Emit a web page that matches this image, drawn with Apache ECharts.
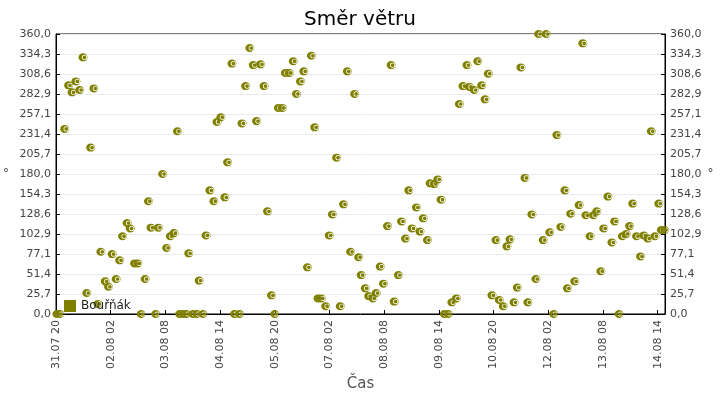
<!DOCTYPE html>
<html>
<head>
<meta charset="utf-8">
<script src="https://cdn.jsdelivr.net/npm/echarts@6/dist/echarts.min.js"></script>
<style>
  html, body { margin: 0; padding: 0; background: #fff; }
  #chart { width: 720px; height: 400px; }
</style>
</head>
<body>
<div id="chart"></div>
<script>
// hodiny od 31.07 20:00
var hours = [0.5, 2.2, 4.8, 6.9, 8.8, 10.9, 13.0, 14.8, 16.9, 19.0, 20.8, 23.0, 24.6, 27.0, 28.8, 30.8,
    33.0, 34.9, 36.5, 39.0, 40.7, 43.1, 44.9, 46.7, 48.9, 50.7, 52.1, 54.7, 56.2, 58.5, 60.7, 62.7,
    64.7, 66.6, 67.8, 69.8, 71.6, 72.8, 75.2, 77.3, 78.5, 80.6, 82.3, 84.4, 86.6, 88.3, 90.4, 92.6,
    94.1, 96.5, 97.9, 100.7, 102.0, 104.0, 106.3, 108.2, 110.0, 112.2, 114.1, 116.0, 118.2, 120.0,
    122.0, 124.2, 125.8, 128.0, 130.1, 131.9, 134.1, 135.9, 137.9, 140.1, 141.9, 143.7, 145.5, 147.9,
    149.9, 151.6, 153.9, 155.9, 157.7, 159.8, 161.6, 163.8, 166.0, 167.4, 169.6, 171.5, 173.8, 175.6,
    177.8, 179.6, 181.8, 183.8, 185.5, 187.8, 189.5, 191.7, 193.5, 195.3, 197.7, 199.6, 201.4, 203.7,
    205.2, 207.5, 209.4, 211.2, 213.0, 215.2, 217.1, 219.6, 221.2, 223.2, 225.4, 226.8, 229.4, 231.3,
    233.5, 235.3, 237.1, 239.1, 241.3, 243.1, 245.3, 247.3, 249.0, 251.2, 253.0, 255.0, 257.2, 258.8,
    261.0, 263.2, 264.7, 267.2, 268.8, 270.8, 273.0, 274.7, 276.9, 279.1, 280.5, 282.3, 284.5, 286.9,
    288.9, 290.6, 292.9, 294.8, 296.6, 298.8, 300.4, 302.7, 304.9, 306.4, 308.8, 310.6, 312.8, 314.6,
    316.3, 318.4, 320.6, 322.4, 324.6, 326.5, 328.5, 330.6, 332.0, 333.8];

// smer vetru ve stupnich
var dirs = [0, 0, 238, 294, 285, 299, 288, 330, 27, 214, 290, 13, 80, 42, 35, 77,
    45, 69, 100, 117, 110, 65, 65, 0, 45, 145, 111, 0, 111, 180, 85, 100,
    104, 235, 0, 0, 0, 78, 0, 0, 43, 0, 101, 159, 145, 247, 253, 150,
    195, 322, 0, 0, 245, 293, 342, 320, 248, 321, 293, 132, 24, 0,
    265, 265, 310, 310, 325, 283, 299, 312, 60, 332, 240, 20, 20, 10,
    101, 128, 201, 10, 141, 312, 80, 283, 73, 50, 33, 23, 20, 27,
    61, 39, 113, 320, 16, 50, 119, 97, 159, 110, 137, 106, 123, 95,
    168, 167, 173, 147, 0, 0, 15, 20, 270, 293, 320, 292, 288, 325,
    294, 276, 309, 24, 95, 18, 10, 87, 96, 15, 34, 317, 175, 15,
    128, 45, 360, 95, 360, 105, 0, 230, 112, 159, 33, 129, 42, 140,
    348, 127, 100, 127, 132, 55, 110, 151, 92, 119, 0, 100, 103, 113,
    142, 100, 74, 101, 97, 235, 100, 142, 108, 108];

var seriesName = 'Bouřňák';
var start = Date.UTC(2023, 6, 31, 20, 0);
var xMax = 334;
var yStep = 360 / 14;

function pad(n) { return (n < 10 ? '0' : '') + n; }

function timeLabel(h) {
    if (Math.abs(h % 30) > 0.001) return '';
    var d = new Date(start + h * 3600 * 1000);
    return pad(d.getUTCDate()) + '.' + pad(d.getUTCMonth() + 1) + ' ' + pad(d.getUTCHours());
}

function degLabel(v) {
    return v.toFixed(1).replace('.', ',');
}

// kolecko s bilym prouzkem vpravo
var marker = 'path://M0,9A10,9 0 1,1 20,9A10,9 0 1,1 0,9Z' +
    'M19,9A5.8,5.8 0 1,0 7.4,9A5.8,5.8 0 1,0 19,9Z' +
    'M17.4,9A4.2,4.2 0 1,1 9,9A4.2,4.2 0 1,1 17.4,9Z';

var points = [];
for (var i = 0; i < hours.length; i++) {
    points.push([hours[i], dirs[i]]);
}

var font = 'DejaVu Sans';

function yAxisOpt(pos, gap) {
    return {
        type: 'value',
        position: pos,
        min: 0,
        max: 360,
        interval: yStep,
        name: '°',
        nameLocation: 'middle',
        nameGap: gap,
        nameRotate: 0,
        nameTextStyle: { color: '#444', fontFamily: font, fontSize: 12 },
        axisLine: { show: true, lineStyle: { color: '#000', width: 1 } },
        axisTick: { show: true, inside: true, length: 4, lineStyle: { color: '#000' } },
        axisLabel: { color: '#444', fontFamily: font, fontSize: 11, margin: 5, formatter: degLabel },
        splitLine: { show: pos === 'left', lineStyle: { color: '#ebebeb', width: 1 } }
    };
}

var chart = echarts.init(document.getElementById('chart'));
chart.setOption({
    backgroundColor: '#fff',
    animation: false,
    title: {
        text: 'Směr větru',
        left: 'center',
        top: 5,
        textStyle: { color: '#000', fontFamily: font, fontSize: 20, fontWeight: 'normal' }
    },
    legend: {
        data: [seriesName],
        left: 59,
        top: 295,
        icon: 'rect',
        itemWidth: 12,
        itemHeight: 12,
        itemGap: 6,
        textStyle: { color: '#222', fontFamily: font, fontSize: 12 }
    },
    grid: {
        left: 54,
        right: 55,
        top: 34,
        bottom: 86,
        show: true,
        borderColor: '#000',
        borderWidth: 1,
        backgroundColor: 'transparent'
    },
    xAxis: {
        type: 'value',
        min: 0,
        max: xMax,
        interval: 30,
        name: 'Čas',
        nameLocation: 'middle',
        nameGap: 62,
        nameTextStyle: { color: '#555', fontFamily: font, fontSize: 15 },
        axisLine: { show: true, lineStyle: { color: '#000', width: 1 } },
        axisTick: { show: true, inside: true, length: 4, lineStyle: { color: '#000' } },
        axisLabel: {
            rotate: 90,
            color: '#444',
            fontFamily: font,
            fontSize: 11,
            margin: 6,
            showMaxLabel: false,
            formatter: timeLabel
        },
        splitLine: { show: false }
    },
    yAxis: [yAxisOpt('left', 47), yAxisOpt('right', 24)],
    series: [{
        name: seriesName,
        type: 'scatter',
        symbol: marker,
        symbolSize: [9, 8],
        clip: false,
        itemStyle: { color: '#808000', opacity: 1 },
        data: points
    }]
});
</script>
</body>
</html>
